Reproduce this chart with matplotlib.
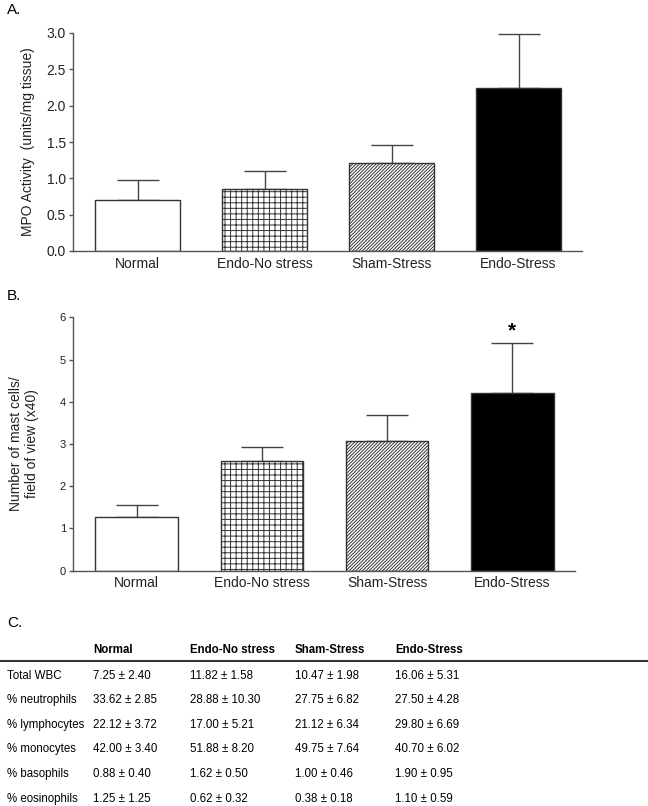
import numpy as np
import matplotlib.pyplot as plt

plt.rcParams['font.family'] = ['Liberation Sans', 'DejaVu Sans']
plt.rcParams['hatch.linewidth'] = 0.7

# groups
groups = ['Normal', 'Endo-No stress', 'Sham-Stress', 'Endo-Stress']
fills = ['white', 'white', 'white', 'black']
hatches = ['', '+++', '//////////', '']

# panel A: MPO activity
mpo_mean = [0.70, 0.85, 1.21, 2.25]
mpo_sem = [0.28, 0.25, 0.25, 0.74]

# panel B: mast cells
mast_mean = [1.28, 2.59, 3.08, 4.20]
mast_sem = [0.27, 0.35, 0.61, 1.20]

# panel C: table
row_labels = ['Total WBC', '% neutrophils', '% lymphocytes', '% monocytes',
              '% basophils', '% eosinophils']
tab_normal = ['7.25 ± 2.40', '33.62 ± 2.85', '22.12 ± 3.72', '42.00 ± 3.40',
              '0.88 ± 0.40', '1.25 ± 1.25']
tab_endo_ns = ['11.82 ± 1.58', '28.88 ± 10.30', '17.00 ± 5.21', '51.88 ± 8.20',
               '1.62 ± 0.50', '0.62 ± 0.32']
tab_sham = ['10.47 ± 1.98', '27.75 ± 6.82', '21.12 ± 6.34', '49.75 ± 7.64',
            '1.00 ± 0.46', '0.38 ± 0.18']
tab_endo_s = ['16.06 ± 5.31', '27.50 ± 4.28', '29.80 ± 6.69', '40.70 ± 6.02',
              '1.90 ± 0.95', '1.10 ± 0.59']

W, H = 648, 806
fig = plt.figure(figsize=(W / 100, H / 100), dpi=100)


def px_axes(left, top, right, bottom):
    return fig.add_axes([left / W, 1 - bottom / H, (right - left) / W, (bottom - top) / H])


def bar_panel(ax, means, sems, width, ylim, yticks, ylab, tickfmt, tick_fs):
    x = np.arange(len(groups))
    ax.bar(x, means, width=width, color=fills, edgecolor='#333333', linewidth=1.0,
           zorder=2)
    for p, h in zip(ax.patches, hatches):
        if h:
            p.set_hatch(h)
    ax.errorbar(x, means, yerr=[np.zeros(len(sems)), sems], fmt='none',
                ecolor='#444444', elinewidth=1.0, capsize=14.8, capthick=1.0, zorder=1)
    ax.set_xlim(-0.508, 3.5)
    ax.set_ylim(*ylim)
    ax.set_yticks(yticks)
    ax.set_yticklabels([tickfmt.format(t) for t in yticks], fontsize=tick_fs, color='#222222')
    ax.set_xticks(x)
    ax.set_xticklabels(groups, fontsize=10, color='#222222')
    ax.tick_params(axis='x', length=0, pad=4)
    ax.tick_params(axis='y', length=3, width=1, color='#555555', pad=2)
    for s in ['top', 'right']:
        ax.spines[s].set_visible(False)
    for s in ['left', 'bottom']:
        ax.spines[s].set_color('#555555')
        ax.spines[s].set_linewidth(1.0)
    ax.set_ylabel(ylab, fontsize=10, color='#222222')
    return x


# Panel A
axA = px_axes(73, 33, 582, 251)
bar_panel(axA, mpo_mean, mpo_sem, 0.67, (0, 3.0), [0, 0.5, 1.0, 1.5, 2.0, 2.5, 3.0],
          'MPO Activity  (units/mg tissue)', '{:.1f}', 10)
axA.yaxis.set_label_coords(-0.075, 0.5)

# Panel B
axB = px_axes(73, 317.3, 575, 570.7)
xB = bar_panel(axB, mast_mean, mast_sem, 0.66, (0, 6), [0, 1, 2, 3, 4, 5, 6],
               'Number of mast cells/\nfield of view (x40)', '{:d}', 8)
axB.yaxis.set_label_coords(-0.068, 0.5)
axB.text(xB[3], mast_mean[3] + mast_sem[3] + 0.05, '*', ha='center', va='bottom',
         fontsize=15, fontweight='bold')

# panel letters
fig.text(7 / W, 1 - 10 / H, 'A.', fontsize=11, va='center', ha='left')
fig.text(7 / W, 1 - 296 / H, 'B.', fontsize=11, va='center', ha='left')
fig.text(7 / W, 1 - 623 / H, 'C.', fontsize=11, va='center', ha='left')

# Panel C table
col_x = [7, 93, 190, 295, 395]
header_y = 650
row_y = [676, 700, 725, 749, 774, 799]
for cx, g in zip(col_x[1:], groups):
    fig.text(cx / W, 1 - header_y / H, g, fontsize=8.3, fontweight='bold',
             va='center', ha='left')
fig.add_artist(plt.Line2D([0, 1], [1 - 661 / H, 1 - 661 / H], color='#333333',
                          linewidth=1.5, transform=fig.transFigure))
columns = [row_labels, tab_normal, tab_endo_ns, tab_sham, tab_endo_s]
for cx, col in zip(col_x, columns):
    for ry, txt in zip(row_y, col):
        fig.text(cx / W, 1 - ry / H, txt, fontsize=8.3, va='center', ha='left')

plt.savefig('out.png', dpi=100)
